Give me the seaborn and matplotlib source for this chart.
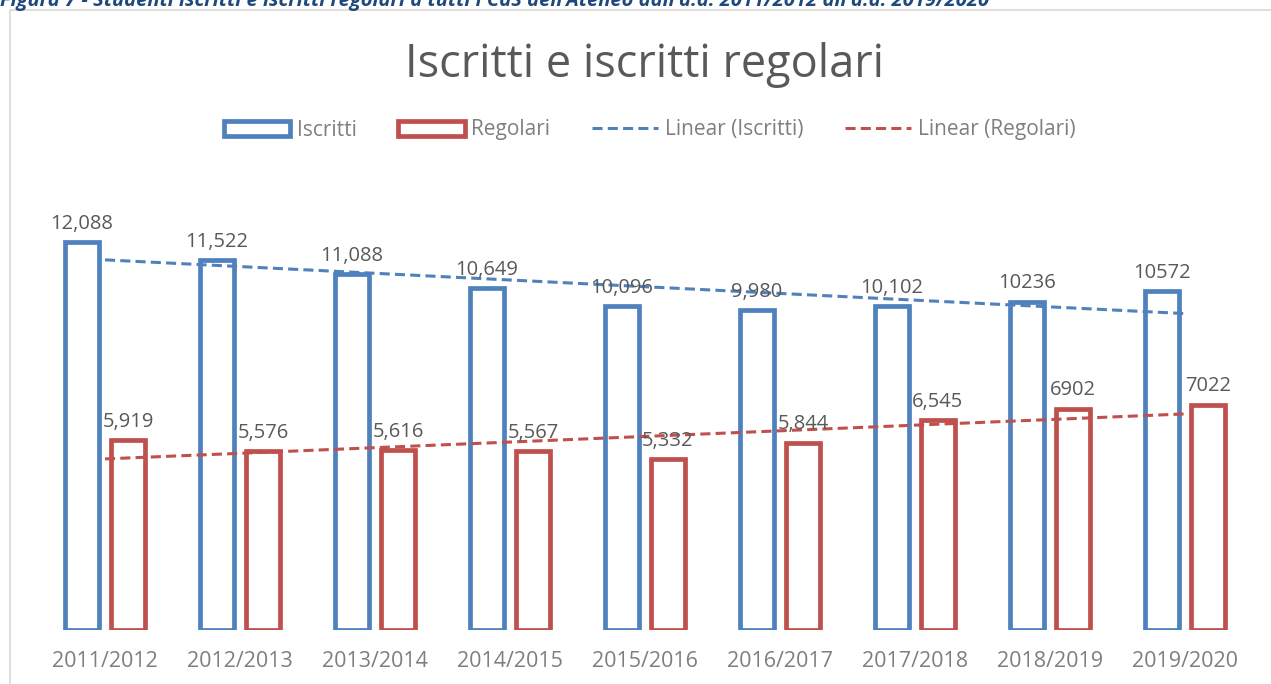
import pandas as pd
import numpy as np
import matplotlib
matplotlib.use('Agg')
import matplotlib.pyplot as plt
import seaborn as sns
from matplotlib.patches import Patch, Rectangle
from matplotlib.lines import Line2D

# data
anni = ['2011/2012', '2012/2013', '2013/2014', '2014/2015', '2015/2016',
        '2016/2017', '2017/2018', '2018/2019', '2019/2020']
iscritti = [12088, 11522, 11088, 10649, 10096, 9980, 10102, 10236, 10572]
regolari = [5919, 5576, 5616, 5567, 5332, 5844, 6545, 6902, 7022]
label_iscritti = ['12,088', '11,522', '11,088', '10,649', '10,096', '9,980', '10,102', '10236', '10572']
label_regolari = ['5,919', '5,576', '5,616', '5,567', '5,332', '5,844', '6,545', '6902', '7022']

blue = '#4F81BD'
red = '#C0504D'
grey_dark = '#595959'
grey_light = '#7F7F7F'

df = pd.DataFrame({
    'anno': anni * 2,
    'valore': iscritti + regolari,
    'serie': ['Iscritti'] * len(anni) + ['Regolari'] * len(anni),
})

sns.set_style('white')
plt.rcParams['font.family'] = ['Open Sans', 'DejaVu Sans']

fig = plt.figure(figsize=(12.71, 6.84), dpi=100)
ax = fig.add_axes([37.5 / 1271, 1 - 630 / 684, 1215 / 1271, 449 / 684])

sns.barplot(data=df, x='anno', y='valore', hue='serie', order=anni,
            palette=[blue, red], fill=False, width=0.68, gap=0.25,
            linewidth=3.4, legend=False, ax=ax)

# label each bar
for cont, labs in zip(ax.containers, [label_iscritti, label_regolari]):
    ax.bar_label(cont, labels=labs, padding=6, fontsize=14.5, color=grey_dark)

# linear trend lines, like Excel
xs = np.arange(len(anni))
for vals, col in [(iscritti, blue), (regolari, red)]:
    k, b = np.polyfit(xs, vals, 1)
    ax.plot(xs, k * xs + b, color=col, lw=2.2, dashes=(3.3, 1.7))

ax.set_ylim(0, 14000)
ax.set_xlim(-0.5, len(anni) - 0.5)
ax.set_xlabel('')
ax.set_ylabel('')
ax.set_yticks([])
ax.tick_params(axis='x', length=0, pad=15, labelsize=15.5, labelcolor=grey_light)
sns.despine(ax=ax, left=True, bottom=True)

fig.text(0.507, 1 - 65 / 684, 'Iscritti e iscritti regolari', ha='center', va='center',
         fontsize=32.5, color=grey_dark)

handles = [
    Patch(facecolor='white', edgecolor=blue, linewidth=3.4, label='Iscritti'),
    Patch(facecolor='white', edgecolor=red, linewidth=3.4, label='Regolari'),
    Line2D([], [], color=blue, lw=2.2, dashes=(3.3, 1.7), label='Linear (Iscritti)'),
    Line2D([], [], color=red, lw=2.2, dashes=(3.3, 1.7), label='Linear (Regolari)'),
]
leg = fig.legend(handles=handles, loc='center', bbox_to_anchor=(0.511, 1 - 130 / 684), ncol=4,
                 frameon=False, fontsize=15, handlelength=3.2, handletextpad=0.3,
                 columnspacing=2.0)
for t in leg.get_texts():
    t.set_color(grey_light)

# chart frame and cut-off caption at the top
fig.patches.append(Rectangle((10 / 1271, -0.1), 1.2, 1.1 - 10 / 684, transform=fig.transFigure,
                             fill=False, edgecolor='#D9D9D9', lw=1.2))
fig.text(0.0, 1 - 6 / 684, "Figura 7 - Studenti iscritti e iscritti regolari a tutti i CdS dell'Ateneo "
         "dall'a.a. 2011/2012 all'a.a. 2019/2020", ha='left', va='baseline', fontsize=14.5,
         fontweight='bold', fontstyle='italic', color='#1F497D')

fig.savefig('out.png', dpi=100)
